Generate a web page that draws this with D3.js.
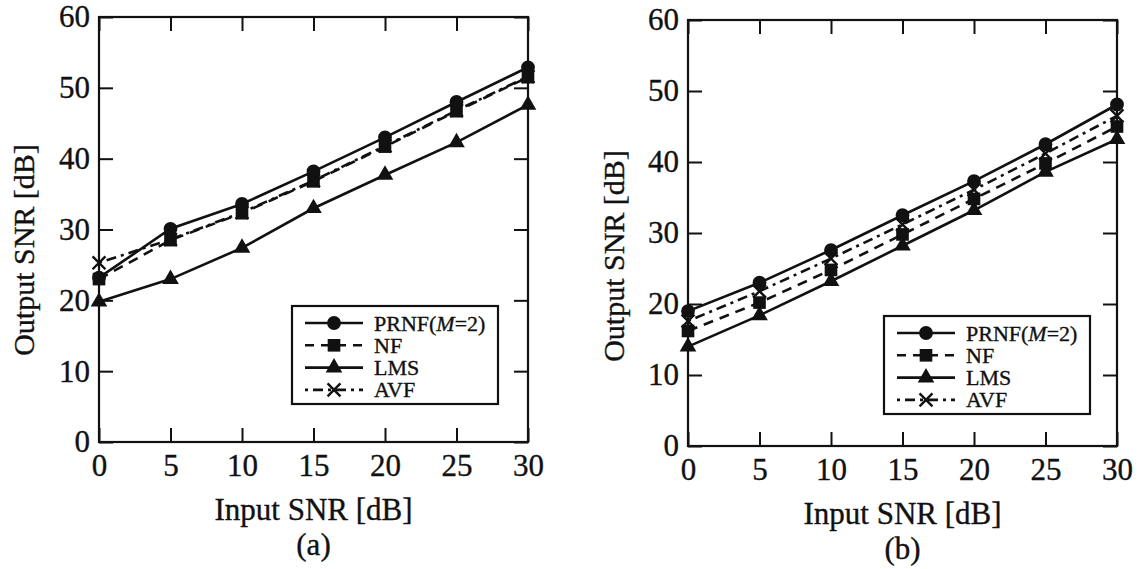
<!DOCTYPE html>
<html>
<head>
<meta charset="utf-8">
<script src="https://cdn.jsdelivr.net/npm/d3@7"></script>
<style>
  body { margin: 0; background: #fff; }
  svg { display: block; }
  text { font-family: 'Liberation Serif', 'Times New Roman', serif; fill: #111; stroke: #111; stroke-width: 0.35px; }
</style>
</head>
<body>
<div id="chart"></div>
<script>
const snrIn = [0, 5, 10, 15, 20, 25, 30];
const xTicks = [0, 5, 10, 15, 20, 25, 30];
const yTicks = [0, 10, 20, 30, 40, 50, 60];

// panel (a)
const prnfA = [23.2, 30.1, 33.6, 38.2, 43.0, 48.0, 52.9];
const nfA   = [23.0, 28.5, 32.3, 36.8, 41.7, 46.7, 51.5];
const lmsA  = [19.8, 23.0, 27.4, 33.0, 37.7, 42.3, 47.6];
const avfA  = [25.3, 28.6, 32.4, 36.9, 41.8, 46.8, 51.6];

// panel (b)
const prnfB = [19.0, 23.0, 27.6, 32.5, 37.3, 42.5, 48.1];
const nfB   = [16.2, 20.2, 24.8, 29.8, 34.8, 39.8, 45.0];
const lmsB  = [14.0, 18.4, 23.2, 28.2, 33.2, 38.6, 43.2];
const avfB  = [17.6, 21.8, 26.4, 31.2, 36.1, 41.2, 46.5];

const seriesNames = ['PRNF', 'NF', 'LMS', 'AVF'];

const W = 1143, H = 569;
const FONT = "'Liberation Serif', 'Times New Roman', serif";
const svg = d3.select('#chart').append('svg')
  .attr('width', W).attr('height', H);

const styles = {
  PRNF: {dash: null, sym: d3.symbolCircle, size: 150, fill: '#111'},
  NF:   {dash: '10,7', sym: d3.symbolSquare, size: 160, fill: '#111'},
  LMS:  {dash: null, sym: d3.symbolTriangle, size: 120, fill: '#111'},
  AVF:  {dash: '3,5,10,5', sym: d3.symbolTimes || d3.symbolX, size: 110, fill: 'none'}
};

function panel(opts) {
  const {left, top, w, h, data, label, legend, yTitleX, yTitleY} = opts;
  const g = svg.append('g').attr('transform', `translate(${left}, ${top})`);

  const x = d3.scaleLinear().domain([0, 30]).range([0, w]);
  const y = d3.scaleLinear().domain([0, 60]).range([h, 0]);

  // axes, ticks pointing inward on all four sides
  const ax = [
    g.append('g').attr('transform', `translate(0, ${h})`)
      .call(d3.axisBottom(x).tickValues(xTicks).tickSize(-14).tickPadding(12)),
    g.append('g').call(d3.axisTop(x).tickValues(xTicks).tickSize(-14).tickFormat('')),
    g.append('g').call(d3.axisLeft(y).tickValues(yTicks).tickSize(-14).tickPadding(9)),
    g.append('g').attr('transform', `translate(${w}, 0)`)
      .call(d3.axisRight(y).tickValues(yTicks).tickSize(-14).tickFormat(''))
  ];
  ax.forEach(a => {
    a.attr('font-family', FONT);
    a.select('.domain').remove();
    a.selectAll('line').attr('stroke', '#111').attr('stroke-width', 2);
    a.selectAll('text').attr('font-size', 31).attr('fill', '#111');
  });

  g.append('rect')
    .attr('width', w).attr('height', h)
    .attr('fill', 'none').attr('stroke', '#111').attr('stroke-width', 2.2);

  const line = d3.line().x((d, i) => x(snrIn[i])).y(d => y(d));

  ['AVF', 'NF', 'LMS', 'PRNF'].forEach(name => {
    const st = styles[name];
    const vals = data[name];
    g.append('path')
      .datum(vals)
      .attr('fill', 'none')
      .attr('stroke', '#111')
      .attr('stroke-width', 2.6)
      .attr('stroke-dasharray', st.dash)
      .attr('d', line);
    g.selectAll(null).data(vals).join('path')
      .attr('transform', (d, i) => `translate(${x(snrIn[i])}, ${y(d)})`)
      .attr('d', d3.symbol(st.sym, st.size))
      .attr('fill', st.fill)
      .attr('stroke', '#111')
      .attr('stroke-width', st.fill === 'none' ? 2.4 : 0);
  });

  // axis titles
  g.append('text')
    .attr('x', w / 2).attr('y', h + 78)
    .attr('text-anchor', 'middle').attr('font-size', 31)
    .text('Input SNR [dB]');
  g.append('text')
    .attr('x', w / 2).attr('y', h + 113)
    .attr('text-anchor', 'middle').attr('font-size', 31)
    .text(label);
  svg.append('text')
    .attr('transform', `translate(${yTitleX}, ${yTitleY}) rotate(-90)`)
    .attr('text-anchor', 'middle').attr('font-size', 30)
    .text('Output SNR [dB]');

  // legend
  const lg = g.append('g').attr('transform', `translate(${legend.x}, ${legend.y})`);
  lg.append('rect')
    .attr('width', 206).attr('height', 98)
    .attr('fill', '#fff').attr('stroke', '#111').attr('stroke-width', 2.2);
  seriesNames.forEach((name, i) => {
    const st = styles[name];
    const ry = 17 + i * 22.3;
    lg.append('line')
      .attr('x1', 13).attr('x2', 71).attr('y1', ry).attr('y2', ry)
      .attr('stroke', '#111').attr('stroke-width', 2.6)
      .attr('stroke-dasharray', st.dash ? (name === 'NF' ? '9,7' : '3,5,10,5') : null);
    lg.append('path')
      .attr('transform', `translate(42, ${ry})`)
      .attr('d', d3.symbol(st.sym, st.size))
      .attr('fill', st.fill)
      .attr('stroke', '#111')
      .attr('stroke-width', st.fill === 'none' ? 2.4 : 0);
    const t = lg.append('text')
      .attr('x', 82).attr('y', ry + 7.5)
      .attr('font-size', 22);
    if (name === 'PRNF') {
      t.append('tspan').text('PRNF(');
      t.append('tspan').attr('font-style', 'italic').text('M');
      t.append('tspan').text('=2)');
    } else {
      t.text(name);
    }
  });
}

panel({
  left: 99, top: 17, w: 429, h: 425, label: '(a)',
  data: {PRNF: prnfA, NF: nfA, LMS: lmsA, AVF: avfA},
  legend: {x: 193, y: 289},
  yTitleX: 34, yTitleY: 250
});

panel({
  left: 688, top: 20, w: 429, h: 426, label: '(b)',
  data: {PRNF: prnfB, NF: nfB, LMS: lmsB, AVF: avfB},
  legend: {x: 196, y: 296},
  yTitleX: 624, yTitleY: 256
});
</script>
</body>
</html>
